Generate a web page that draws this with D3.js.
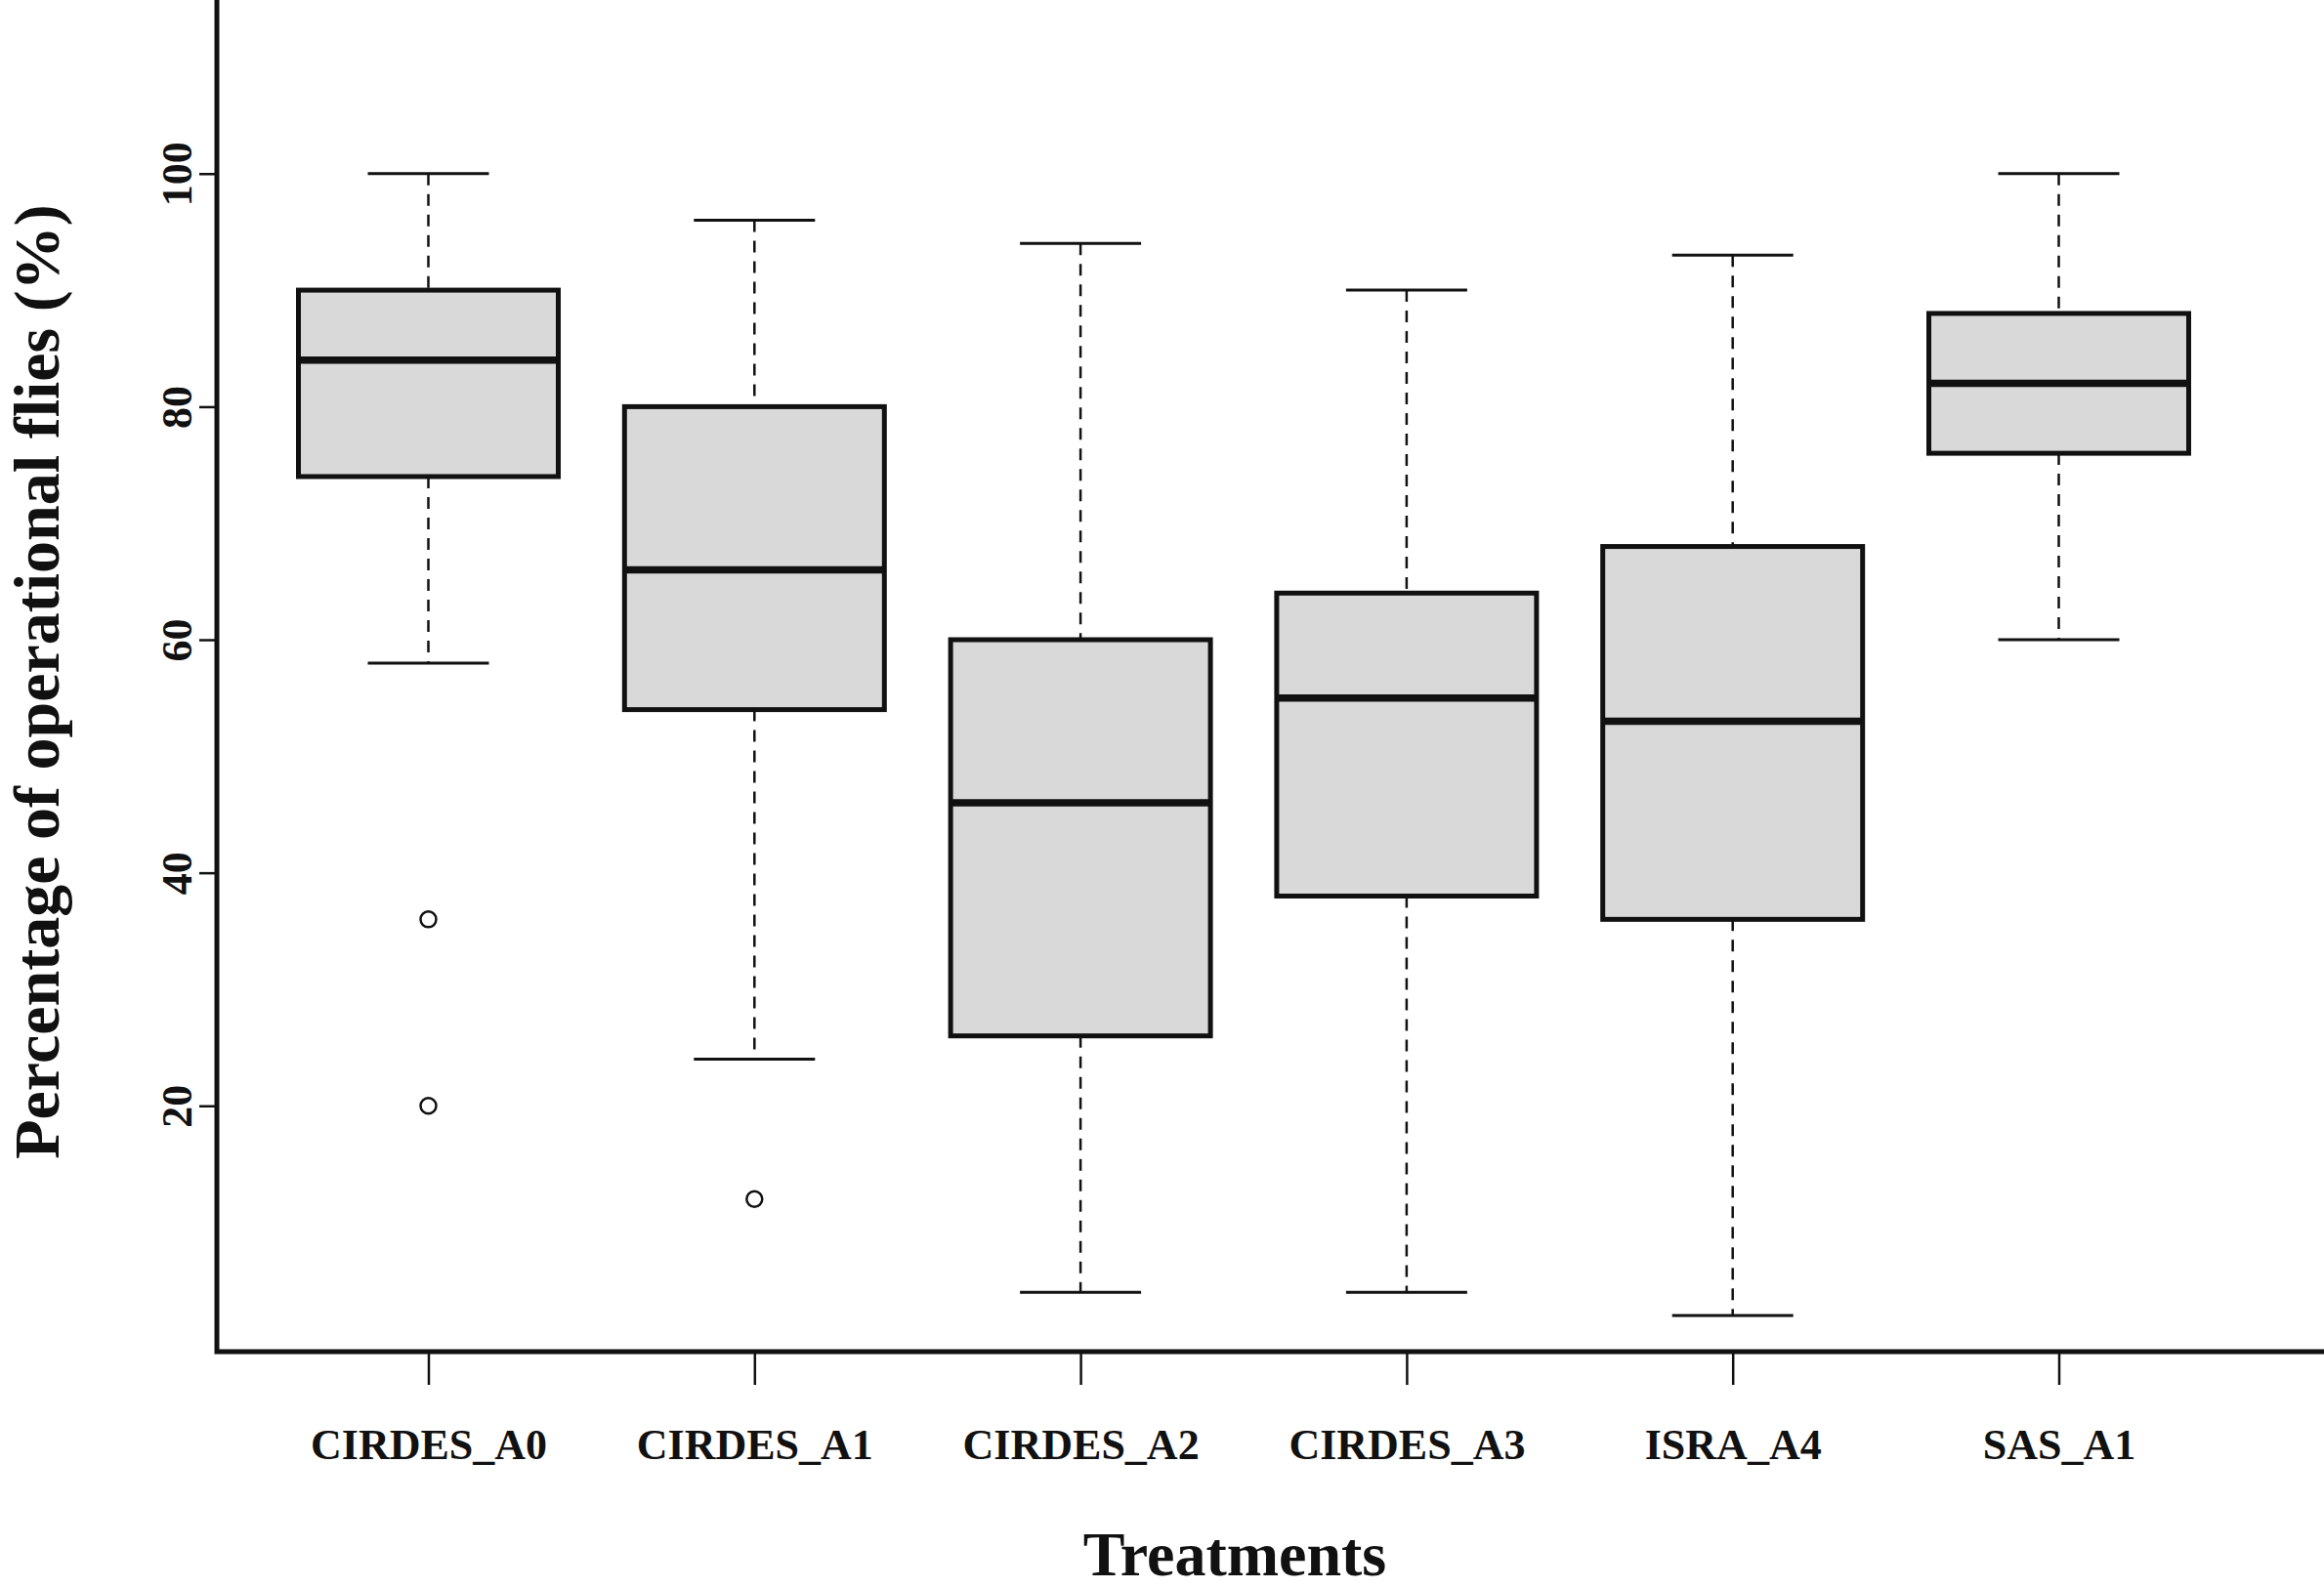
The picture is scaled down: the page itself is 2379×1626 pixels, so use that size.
<!DOCTYPE html>
<html>
<head>
<meta charset="utf-8">
<script src="https://cdn.jsdelivr.net/npm/d3@7"></script>
<style>
  body { margin: 0; background: #fff; }
  svg text { font-family: "Liberation Serif", "Times New Roman", serif; font-weight: bold; fill: #111; }
</style>
</head>
<body>
<svg id="chart" width="2379" height="1626"></svg>
<script>
// treatments and their box summaries
const treatments = ["CIRDES_A0", "CIRDES_A1", "CIRDES_A2", "CIRDES_A3", "ISRA_A4", "SAS_A1"];
const whiskerLow = [58, 24, 4, 4, 2, 60];
const q1 = [74, 54, 26, 38, 36, 76];
const median = [84, 66, 46, 55, 53, 82];
const q3 = [90, 80, 60, 64, 68, 88];
const whiskerHigh = [100, 96, 94, 90, 93, 100];
const outliers = [[36, 20], [12], [], [], [], []];
const yTicks = [20, 40, 60, 80, 100];

const svg = d3.select("#chart"),
  width = +svg.attr("width"),
  height = +svg.attr("height");

const x0 = 222, yBase = 1384; // L-shaped frame
const x = d3.scalePoint().domain(treatments).range([438.5, 2107.5]);
const y = d3.scaleLinear().domain([-1.1, 114.9]).range([yBase, 0]);
const boxHalf = 133, capHalf = 62;

const boxes = treatments.map((t, i) => ({
  name: t, lo: whiskerLow[i], q1: q1[i], med: median[i], q3: q3[i], hi: whiskerHigh[i], out: outliers[i]
}));

// y axis ticks
const yAxis = svg.append("g")
  .attr("transform", `translate(${x0},0)`)
  .call(d3.axisLeft(y).tickValues(yTicks).tickSize(18).tickPadding(0).tickFormat(d3.format("d")));
yAxis.select(".domain").remove();
yAxis.selectAll(".tick line").attr("stroke", "#111").attr("stroke-width", 2.5);
yAxis.selectAll(".tick text")
  .attr("transform", "rotate(-90)")
  .attr("x", 0).attr("y", -26)
  .attr("dy", 0)
  .attr("text-anchor", "middle")
  .style("font-size", "44px");

// x axis ticks
const xAxis = svg.append("g")
  .attr("transform", `translate(0,${yBase})`)
  .call(d3.axisBottom(x).tickSize(34).tickPadding(0));
xAxis.select(".domain").remove();
xAxis.selectAll(".tick line").attr("stroke", "#111").attr("stroke-width", 2.5);
xAxis.selectAll(".tick text")
  .attr("y", 110).attr("dy", 0)
  .style("font-size", "44px");

// frame
svg.append("path")
  .attr("d", `M${x0},0 V${yBase} H${width}`)
  .attr("fill", "none").attr("stroke", "#111").attr("stroke-width", 5);

const g = svg.selectAll(".box").data(boxes).join("g").attr("class", "box");

// dashed whiskers
g.append("line")
  .attr("x1", d => x(d.name)).attr("x2", d => x(d.name))
  .attr("y1", d => y(d.hi)).attr("y2", d => y(d.q3))
  .attr("stroke", "#111").attr("stroke-width", 2.5).attr("stroke-dasharray", "12,9");
g.append("line")
  .attr("x1", d => x(d.name)).attr("x2", d => x(d.name))
  .attr("y1", d => y(d.q1)).attr("y2", d => y(d.lo))
  .attr("stroke", "#111").attr("stroke-width", 2.5).attr("stroke-dasharray", "12,9");

// staples
["hi", "lo"].forEach(k => {
  g.append("line")
    .attr("x1", d => x(d.name) - capHalf).attr("x2", d => x(d.name) + capHalf)
    .attr("y1", d => y(d[k])).attr("y2", d => y(d[k]))
    .attr("stroke", "#111").attr("stroke-width", 3);
});

// boxes
g.append("rect")
  .attr("x", d => x(d.name) - boxHalf)
  .attr("width", boxHalf * 2)
  .attr("y", d => y(d.q3))
  .attr("height", d => y(d.q1) - y(d.q3))
  .attr("fill", "#d9d9d9").attr("stroke", "#111").attr("stroke-width", 5);

// medians
g.append("line")
  .attr("x1", d => x(d.name) - boxHalf).attr("x2", d => x(d.name) + boxHalf)
  .attr("y1", d => y(d.med)).attr("y2", d => y(d.med))
  .attr("stroke", "#111").attr("stroke-width", 7.5);

// outliers
g.selectAll("circle").data(d => d.out.map(v => ({ name: d.name, v })))
  .join("circle")
  .attr("cx", d => x(d.name)).attr("cy", d => y(d.v))
  .attr("r", 8).attr("fill", "none").attr("stroke", "#111").attr("stroke-width", 2.5);

// axis titles
svg.append("text")
  .attr("x", 1264).attr("y", 1613)
  .attr("text-anchor", "middle")
  .style("font-size", "64px")
  .text("Treatments");

svg.append("text")
  .attr("transform", "translate(60,698) rotate(-90)")
  .attr("text-anchor", "middle")
  .style("font-size", "66px")
  .text("Percentage of operational flies (%)");
</script>
</body>
</html>
